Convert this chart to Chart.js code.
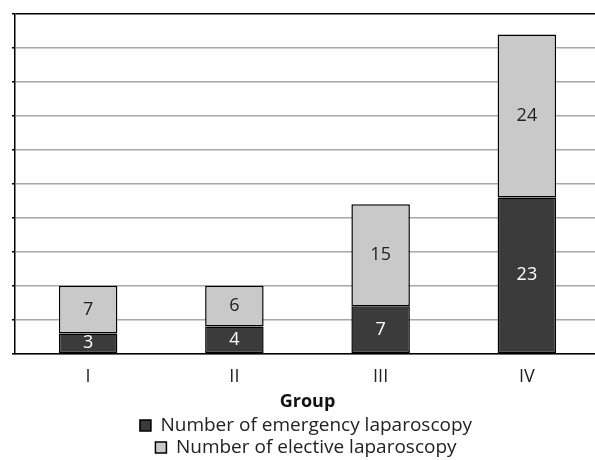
<!DOCTYPE html>
<html>
<head>
<meta charset="utf-8">
<script src="https://cdn.jsdelivr.net/npm/chart.js@4/dist/chart.umd.min.js"></script>
<style>
html,body{margin:0;padding:0;background:#fff;overflow:hidden;}
#wrap{width:600px;height:460px;overflow:hidden;}
</style>
</head>
<body>
<div id="wrap"><canvas id="c" width="600" height="467"></canvas></div>
<script>
const categories = ["I", "II", "III", "IV"];
const emergency = [3, 4, 7, 23];
const elective = [7, 6, 15, 24];
const seriesNames = ["Number of emergency laparoscopy", "Number of elective laparoscopy"];
const axisTitle = "Group";

const FONT = "'Open Sans', 'Noto Sans', sans-serif";

const barLabels = {
  id: 'barLabels',
  afterDatasetsDraw(chart) {
    const ctx = chart.ctx;
    ctx.save();
    ctx.font = "18px " + FONT;
    ctx.textAlign = 'center';
    ctx.textBaseline = 'middle';
    chart.data.datasets.forEach((ds, i) => {
      const meta = chart.getDatasetMeta(i);
      meta.data.forEach((el, j) => {
        const v = ds.data[j];
        const y = (el.y + el.base) / 2;
        ctx.fillStyle = i === 0 ? '#ffffff' : '#222222';
        ctx.fillText(String(v), el.x, y);
      });
    });
    ctx.restore();
  }
};

new Chart(document.getElementById('c'), {
  type: 'bar',
  data: {
    labels: categories,
    datasets: [
      { label: seriesNames[0], data: emergency, backgroundColor: '#3b3b3b', borderColor: '#000000', borderWidth: 1.5, borderSkipped: false },
      { label: seriesNames[1], data: elective, backgroundColor: '#c9c9c9', borderColor: '#000000', borderWidth: 1.5, borderSkipped: false }
    ]
  },
  options: {
    responsive: false,
    animation: false,
    devicePixelRatio: 1,
    layout: { padding: { top: 14, left: 12, right: 0, bottom: 0 } },
    datasets: { bar: { barPercentage: 0.4, categoryPercentage: 1.0 } },
    scales: {
      x: {
        stacked: true,
        grid: { display: false },
        border: { display: true, color: '#000000', width: 1.5 },
        ticks: { color: '#222222', font: { family: FONT, size: 18 }, padding: 4 },
        title: { display: true, text: axisTitle, color: '#111111', font: { family: FONT, size: 18, weight: 'bold' }, padding: { top: 0, bottom: 0 } }
      },
      y: {
        stacked: true,
        min: 0, max: 50,
        ticks: { display: false, stepSize: 5 },
        grid: {
          color: (c) => c.tick && c.tick.value === 50 ? '#000000' : '#a8a8a8',
          lineWidth: 1.5,
          drawTicks: true,
          tickLength: 3,
          tickColor: '#000000'
        },
        border: { display: true, color: '#000000', width: 1.5 }
      }
    },
    plugins: {
      legend: {
        position: 'bottom',
        labels: { color: '#222222', font: { family: FONT, size: 19 }, boxWidth: 11, boxHeight: 11, padding: 3 }
      },
      tooltip: { enabled: false }
    }
  },
  plugins: [barLabels]
});
</script>
</body>
</html>
